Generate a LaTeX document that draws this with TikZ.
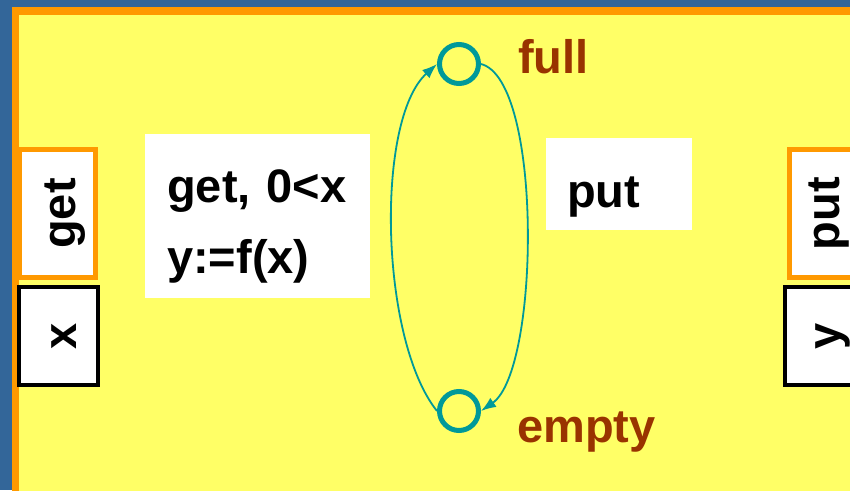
\documentclass[tikz,border=0pt]{standalone}
\usepackage{fontspec}
\setmainfont{Liberation Sans}
\usetikzlibrary{arrows.meta}
\definecolor{bufblue}{RGB}{51,102,153}
\definecolor{buforange}{RGB}{255,153,0}
\definecolor{bufyellow}{RGB}{255,255,102}
\definecolor{bufteal}{RGB}{0,153,153}
\definecolor{bufbrown}{RGB}{153,51,0}

\begin{document}
\begin{tikzpicture}[x=1pt,y=-1pt,>={Latex[length=15pt,width=11pt]},
    font={\fontsize{47}{71}\selectfont\bfseries},
    every node/.style={inner sep=0pt},
    portbox/.style={draw=buforange,line width=5pt,fill=white,rotate=90,minimum width=128pt,text depth=20.5pt},
    varbox/.style={draw=black,line width=4pt,fill=white,rotate=90,minimum width=98pt,text depth=22pt},
    labelbox/.style={fill=white,anchor=north west,align=left},
    statecirc/.style={circle,draw=bufteal,line width=5pt,minimum size=39pt},
    stateword/.style={text=bufbrown,anchor=base west},
    flow/.style={->,draw=bufteal,line width=1.8pt}]
    % frame
    \useasboundingbox (0,0) rectangle (850,490);
    \clip (0,0) rectangle (850,490);
    \fill[bufblue] (0,0) rectangle (850,490);
    \fill[buforange] (11.5,7) rectangle (860,500);
    \fill[bufyellow] (18.5,15) rectangle (860,500);
    % ports
    \node[portbox,text height=55.5pt] (get) at (57.5,213.5) {get\hspace{10pt}};
    \node[varbox,text height=57pt] (x) at (58.5,336) {x};
    \node[portbox,text height=49.5pt] (put) at (824.75,213.5) {put\hspace{7pt}};
    \node[varbox,text height=55pt] (y) at (823.5,336) {y};
    % transition labels
    \node[labelbox,text width=181pt,inner xsep=22pt,text height=68pt,text depth=96pt] (getlabel) at (145,134) {get, 0<x\\y:=f(x)};
    \node[labelbox,text width=104pt,inner xsep=21pt,text height=69pt,text depth=23pt] (putlabel) at (546,138) {put};
    % states
    \node[statecirc] (full) at (459,64) {};
    \node[statecirc] (empty) at (459,411) {};
    \node[stateword] (fullword) at (518,73) {full};
    \node[stateword] (emptyword) at (517,442) {empty};
    \draw[flow] (empty.west) .. controls (380,340) and (375,120) .. (full.west);
    \draw[flow] (full.east) .. controls (543,80) and (540,370) .. (empty.east);
\end{tikzpicture}
\end{document}
